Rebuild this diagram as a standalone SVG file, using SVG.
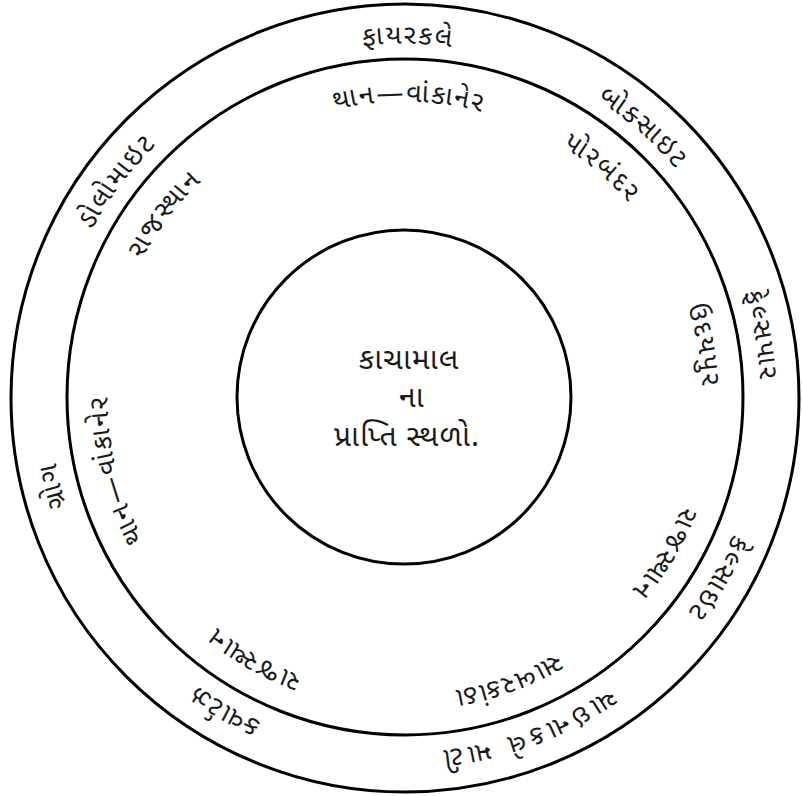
<svg xmlns="http://www.w3.org/2000/svg" xmlns:xlink="http://www.w3.org/1999/xlink" width="802" height="796" viewBox="0 0 802 796">
  <style>
    .ring { fill: none; stroke: #000; stroke-width: 3; }
    .lbl { font-family: "Noto Sans Gujarati", "Lohit Gujarati", "Noto Sans", "DejaVu Sans", sans-serif; font-size: 27px; letter-spacing: 2px; fill: #1a1a1a; }
    .ctr { font-family: "Noto Sans Gujarati", "Lohit Gujarati", "Noto Sans", "DejaVu Sans", sans-serif; font-size: 30px; letter-spacing: 1px; fill: #1a1a1a; text-anchor: middle; }
    .wide { letter-spacing: 5px; }
  </style>
  <defs>
    <path id="outerPath" d="M 343.53 746.62 A 354 354 0 1 1 466.47 49.38 A 354 354 0 1 1 343.53 746.62"/>
    <path id="innerPath" d="M 353.60 689.50 A 296 296 0 1 1 456.40 106.50 A 296 296 0 1 1 353.60 689.50"/>
  </defs>
  <rect width="802" height="796" fill="#fff"/>

  <g id="rings">
    <circle class="ring" cx="405" cy="398" r="394"/>
    <circle class="ring" cx="405" cy="397" r="338"/>
    <circle class="ring" cx="404" cy="397" r="167"/>
  </g>

  <g id="center">
    <text class="ctr" x="409" y="369">કાચામાલ</text>
    <text class="ctr" x="412" y="407">ના</text>
    <text class="ctr" x="407" y="446">પ્રાપ્તિ સ્થળો.</text>
  </g>

  <g id="outer-labels" class="lbl" text-anchor="middle">
    <g id="o-fireclay"><text><textPath xlink:href="#outerPath" startOffset="47.36%">ફાયરકલે</textPath></text></g>
    <g id="o-bauxite"><text><textPath xlink:href="#outerPath" startOffset="58.69%">બોક્સાઇટ</textPath></text></g>
    <g id="o-feldspar"><text><textPath xlink:href="#outerPath" startOffset="69.44%">ફેલ્સપાર</textPath></text></g>
    <g id="o-calcite"><text><textPath xlink:href="#outerPath" startOffset="80.56%">કેલ્સાઇટ</textPath></text></g>
    <g id="o-chinaclay"><text class="wide"><textPath xlink:href="#outerPath" startOffset="91.6%">ચાઇનાકલે માટી</textPath></text></g>
    <g id="o-quartz"><text><textPath xlink:href="#outerPath" startOffset="5.56%">ક્વાર્ટઝ</textPath></text></g>
    <g id="o-grog"><text><textPath xlink:href="#outerPath" startOffset="18.33%">ગ્રોગ</textPath></text></g>
    <g id="o-dolomite"><text><textPath xlink:href="#outerPath" startOffset="32.5%">ડોલોમાઇટ</textPath></text></g>
  </g>

  <g id="inner-labels" class="lbl" text-anchor="middle">
    <g id="i-than-top"><text><textPath xlink:href="#innerPath" startOffset="47.44%">થાન—વાંકાનેર</textPath></text></g>
    <g id="i-porbandar"><text><textPath xlink:href="#innerPath" startOffset="58.47%">પોરબંદર</textPath></text></g>
    <g id="i-udaipur"><text><textPath xlink:href="#innerPath" startOffset="69.44%">ઉદયપુર</textPath></text></g>
    <g id="i-rajasthan-lr"><text><textPath xlink:href="#innerPath" startOffset="80.83%">રાજસ્થાન</textPath></text></g>
    <g id="i-sabarkantha"><text><textPath xlink:href="#innerPath" startOffset="91.67%">સાબરકાંઠા</textPath></text></g>
    <g id="i-rajasthan-ll"><text><textPath xlink:href="#innerPath" startOffset="5.56%">રાજસ્થાન</textPath></text></g>
    <g id="i-than-left"><text><textPath xlink:href="#innerPath" startOffset="18.33%">થાન—વાંકાનેર</textPath></text></g>
    <g id="i-rajasthan-ul"><text><textPath xlink:href="#innerPath" startOffset="32.64%">રાજસ્થાન</textPath></text></g>
  </g>
</svg>
